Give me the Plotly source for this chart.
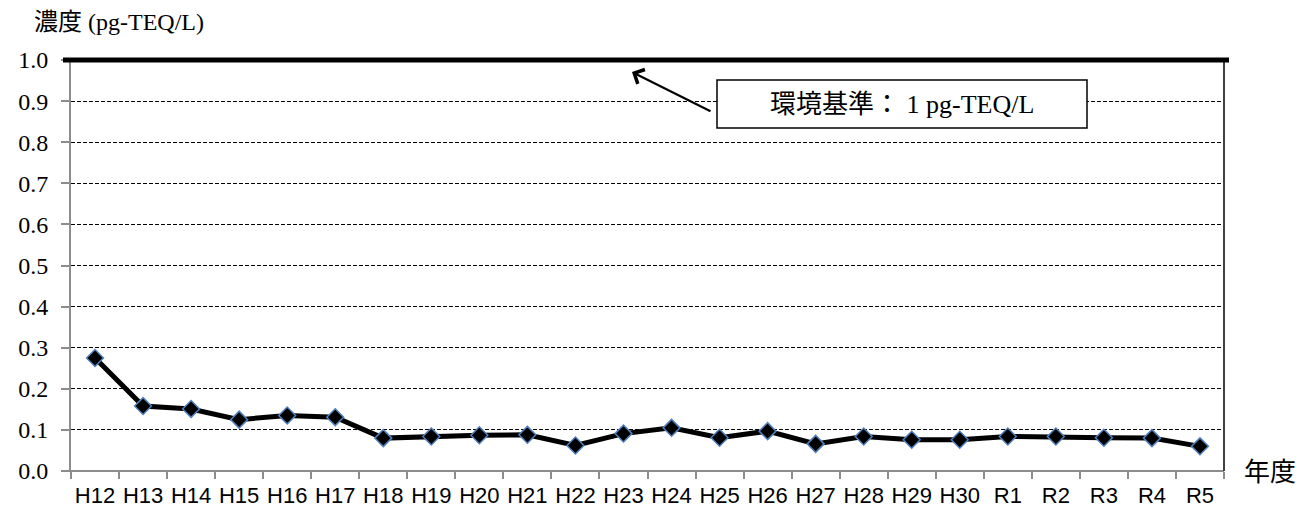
import plotly.graph_objects as go

# Fiscal years and measured dioxin concentration (pg-TEQ/L)
years = ["H12", "H13", "H14", "H15", "H16", "H17", "H18", "H19", "H20", "H21",
         "H22", "H23", "H24", "H25", "H26", "H27", "H28", "H29", "H30",
         "R1", "R2", "R3", "R4", "R5"]
concentration = [0.275, 0.158, 0.151, 0.125, 0.135, 0.131, 0.080, 0.084, 0.087, 0.088,
                 0.062, 0.091, 0.105, 0.081, 0.097, 0.066, 0.084, 0.076, 0.076,
                 0.084, 0.084, 0.081, 0.080, 0.060]
standard_value = 1.0
y_ticks = [0.0, 0.1, 0.2, 0.3, 0.4, 0.5, 0.6, 0.7, 0.8, 0.9, 1.0]

W, H = 1300, 515
L, R, T, B = 71, 76, 60, 44
plot_w = W - L - R
plot_h = H - T - B


def px_x(p):
    return (p - L) / plot_w


def px_y(p):
    return (H - B - p) / plot_h


serif = "Liberation Serif, Noto Sans CJK JP"
axis_grey = "#8c8c8c"

fig = go.Figure()
fig.add_trace(go.Scatter(
    x=years, y=concentration, mode="lines+markers",
    line=dict(color="black", width=5),
    marker=dict(symbol="diamond", size=13, color="black",
                line=dict(color="#4F81BD", width=1.5)),
    hoverinfo="x+y", showlegend=False,
))

fig.update_layout(
    width=W, height=H,
    margin=dict(l=L, r=R, t=T, b=B, pad=0),
    paper_bgcolor="white", plot_bgcolor="white",
    xaxis=dict(
        type="category", range=[-0.5, len(years) - 0.5], automargin=False,
        showgrid=False, showline=False, zeroline=False,
        ticks="outside", tickson="boundaries", ticklen=7, tickwidth=2,
        tickcolor=axis_grey, tickangle=0, ticklabelstandoff=9,
        tickfont=dict(family="Liberation Sans", size=22, color="black"),
    ),
    yaxis=dict(
        range=[0, 1], tickvals=y_ticks, tickformat=".1f", automargin=False,
        showline=True, linecolor=axis_grey, linewidth=2,
        ticks="outside", ticklen=8, tickwidth=2, tickcolor=axis_grey,
        ticklabelstandoff=8,
        showgrid=True, gridcolor="black", gridwidth=1.3, griddash="4px,2px",
        zeroline=False,
        tickfont=dict(family="Liberation Serif", size=24, color="black"),
    ),
)

shapes = [
    # x-axis baseline
    dict(type="line", xref="paper", yref="paper", x0=px_x(63), x1=1, y0=0, y1=0,
         line=dict(color=axis_grey, width=2), layer="above"),
    # right border of the plot area
    dict(type="line", xref="paper", yref="paper", x0=1, x1=1, y0=0, y1=1,
         line=dict(color="#404040", width=2), layer="above"),
    # environmental standard line (y = standard_value on a 0..1 axis)
    dict(type="line", xref="paper", yref="paper", x0=px_x(63), x1=px_x(1229),
         y0=standard_value, y1=standard_value,
         line=dict(color="black", width=5), layer="above"),
    # label box
    dict(type="rect", xref="paper", yref="paper",
         x0=px_x(717), x1=px_x(1087), y0=px_y(128), y1=px_y(80),
         fillcolor="white", line=dict(color="black", width=1.5), layer="above"),
]
fig.update_layout(shapes=shapes)

annotations = [
    dict(text="濃度 (pg-TEQ/L)", xref="paper", yref="paper",
         x=px_x(32), y=px_y(22), xanchor="left", yanchor="middle",
         showarrow=False, font=dict(family=serif, size=24, color="black")),
    dict(text="年度", xref="paper", yref="paper",
         x=px_x(1242), y=px_y(472), xanchor="left", yanchor="middle",
         showarrow=False, font=dict(family=serif, size=26, color="black")),
    dict(text="環境基準： 1 pg-TEQ/L", xref="paper", yref="paper",
         x=px_x(902), y=px_y(104), xanchor="center", yanchor="middle",
         showarrow=False, font=dict(family=serif, size=26, color="black")),
    dict(text="", xref="paper", yref="paper",
         x=px_x(632), y=px_y(72), ax=80, ay=40,
         showarrow=True, arrowhead=4, arrowsize=1.4, arrowwidth=2.2,
         arrowcolor="black", standoff=0),
]
fig.update_layout(annotations=annotations)

fig.write_html("out.html")
